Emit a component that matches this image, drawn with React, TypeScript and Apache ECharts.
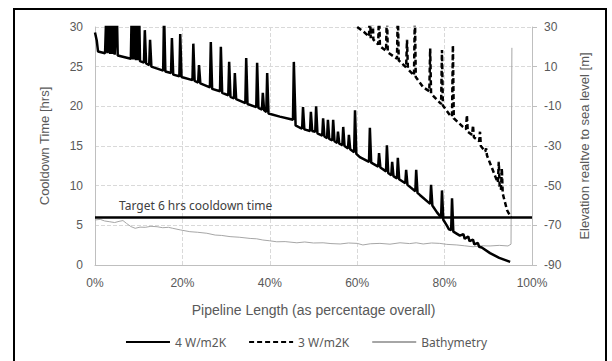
import React, { useEffect, useRef } from "react";
import * as echarts from "echarts";

// Pipeline length (%) vs cooldown time (hrs), U = 4 W/m2K
const cool4W: [number, number][] = [
  [0, 29.3], [0.4, 28.3], [0.7, 26.9], [2.3, 26.7],
  [2.6, 32], [2.9, 26.7],
  [3.3, 32], [3.5, 26.6], [3.8, 32], [4.0, 26.6], [4.3, 32], [4.5, 26.5], [5.0, 32], [5.2, 26.4],
  [8.2, 26.0], [8.4, 32], [8.6, 25.9], [8.8, 32], [9.0, 25.9], [9.2, 32], [9.4, 25.8], [9.6, 32], [9.8, 25.8], [10.1, 32], [10.3, 25.7],
  [11.2, 25.5], [11.4, 29.6], [11.7, 25.4],
  [12.4, 25.2], [12.6, 28.4], [12.9, 25.0],
  [15.6, 24.5], [15.8, 32], [16.1, 24.4],
  [17.4, 24.2], [17.6, 28.6], [17.9, 24.0],
  [19.3, 23.8], [19.5, 29.1], [19.8, 23.7],
  [22.3, 23.3], [22.5, 27.9], [22.8, 23.2],
  [23.6, 23.0], [23.8, 25.2], [24.1, 22.9],
  [26.3, 22.4], [26.5, 28.1], [26.8, 22.2],
  [28.6, 21.9], [28.8, 27.5], [29.1, 21.7],
  [30.5, 21.4], [30.7, 25.6], [31.0, 21.2],
  [31.8, 21.0], [32.0, 24.2], [32.3, 20.9],
  [34.4, 20.4], [34.6, 26.1], [34.9, 20.3],
  [36.9, 19.9], [37.1, 25.5], [37.4, 19.8],
  [38.2, 19.6], [38.4, 21.7], [38.7, 19.5],
  [39.2, 19.3], [39.4, 24.2], [39.7, 19.1],
  [42.3, 18.7], [44.6, 18.4],
  [45.3, 18.3], [45.5, 25.6], [45.9, 17.6], [46.9, 17.3],
  [47.4, 17.2], [47.6, 19.9], [47.9, 17.1],
  [49.2, 16.9], [49.4, 19.3], [49.7, 16.9],
  [50.4, 16.8], [50.6, 20.0], [50.9, 16.6],
  [52.0, 16.3], [52.2, 18.5], [52.5, 16.2],
  [53.1, 16.0], [53.3, 18.3], [53.6, 15.9],
  [54.3, 15.7], [54.5, 18.3], [54.8, 15.6],
  [55.4, 15.4], [55.6, 16.8], [55.9, 15.3],
  [56.6, 15.1], [56.8, 17.4], [57.1, 15.0],
  [57.9, 14.7], [58.1, 16.4], [58.4, 14.6],
  [59.3, 14.2], [59.5, 19.5], [59.8, 14.0],
  [60.6, 13.6],
  [62.7, 13.0], [62.9, 17.3], [63.2, 12.9],
  [64.8, 12.4], [65.0, 14.1], [65.3, 12.3],
  [66.6, 11.8], [66.8, 15.1], [67.1, 11.6],
  [67.8, 11.3], [68.0, 13.0], [68.3, 11.2],
  [69.1, 10.9], [69.3, 13.5], [69.6, 10.8],
  [71.0, 10.3], [71.2, 12.0], [71.5, 10.1],
  [73.3, 9.3], [73.5, 12.0], [73.8, 9.1],
  [74.4, 8.8],
  [76.7, 7.7], [76.9, 10.1], [77.2, 7.5],
  [78.3, 6.6],
  [79.2, 6.0], [79.4, 9.4], [79.7, 5.7],
  [80.5, 5.0], [81.0, 4.5],
  [81.5, 4.4], [81.7, 8.4], [82.0, 4.2],
  [83.5, 3.7], [84.3, 3.9], [84.6, 3.3], [85.4, 3.6], [85.7, 3.0], [86.5, 3.2], [86.8, 2.6], [87.6, 2.8], [87.9, 2.3], [88.5, 2.2],
  [90.4, 1.5], [92.5, 0.9], [95.0, 0.4],
];

// U = 3 W/m2K
const cool3W: [number, number][] = [
  [60.0, 30.0], [61.5, 29.4], [62.7, 28.8],
  [62.9, 32], [63.1, 28.6], [63.5, 32], [63.7, 28.4],
  [64.8, 27.8], [65.0, 32], [65.2, 27.6],
  [66.6, 27.0], [66.8, 32], [67.0, 26.8],
  [69.1, 26.0], [69.3, 32], [69.5, 25.8],
  [71.2, 24.9], [71.4, 28.4], [71.6, 24.7],
  [73.0, 23.9], [73.2, 32], [73.4, 23.7],
  [75.1, 22.4],
  [76.5, 21.9], [76.7, 27.3], [76.9, 21.6],
  [78.3, 20.8],
  [79.2, 20.3], [79.4, 27.1], [79.6, 20.1],
  [81.2, 18.9],
  [81.7, 18.7], [81.9, 27.7], [82.1, 18.5],
  [84.2, 17.4],
  [84.9, 17.1], [85.1, 18.9], [85.3, 16.8],
  [86.3, 16.4], [86.5, 17.6], [86.7, 16.1],
  [87.9, 15.6], [88.1, 16.8], [88.3, 15.0],
  [89.3, 14.3], [89.5, 14.7], [89.7, 13.8],
  [91.0, 12.0], [92.0, 10.6],
  [92.2, 10.4], [92.4, 13.0], [92.6, 9.9],
  [92.9, 9.5], [93.1, 12.2], [93.3, 9.0],
  [94.3, 6.9], [95.2, 6.0],
];

// Bathymetry: elevation relative to sea level (m)
const bathymetry: [number, number][] = [
  [0, -67.3], [1.2, -67.0], [2.2, -67.8], [3.4, -68.2], [4.5, -68.6], [5.5, -68.0], [6.4, -67.6], [7.2, -69.0],
  [8.2, -70.6], [9.2, -71.5], [10.3, -70.9], [11.5, -71.0], [12.8, -70.5], [14.2, -70.7], [15.5, -71.2], [16.8, -71.0],
  [17.8, -71.5], [19.5, -72.3], [21.7, -73.2], [23.5, -73.5], [25.6, -74.0], [27.5, -74.9], [29.0, -75.1], [30.9, -75.7],
  [33.0, -76.0], [35.5, -76.6], [37.0, -76.8], [38.4, -77.4], [40.0, -77.8], [41.6, -78.3], [43.5, -78.2], [46.2, -78.8],
  [48.0, -78.4], [50.0, -78.9], [52.2, -78.8], [54.0, -79.2], [56.1, -79.4], [58.0, -78.9], [60.0, -79.1], [61.3, -79.9],
  [63.0, -79.3], [65.2, -79.1], [67.5, -79.5], [69.8, -78.8], [72.0, -79.2], [73.5, -78.8], [75.1, -79.4], [77.0, -78.9],
  [78.9, -79.1], [80.5, -79.6], [82.8, -79.9], [84.5, -80.3], [86.5, -80.8], [88.5, -80.3], [90.4, -80.4], [92.5, -80.1],
  [94.5, -80.4], [95.2, -79.5], [95.4, 19.5],
];

const seriesNames = ["4 W/m2K", "3 W/m2K", "Bathymetry"];
const targetHours = 6;
const targetLabel = "Target 6 hrs cooldown time";
const xName = "Pipeline Length (as percentage overall)";
const yLeftName = "Cooldown Time [hrs]";
const yRightName = "Elevation realtve to sea level [m]";

const TXT = "#595959";
const FONT = "Liberation Sans";

export default function App() {
  const ref = useRef<HTMLDivElement>(null);
  useEffect(() => {
    if (!ref.current) return;
    const chart = echarts.init(ref.current, undefined, { renderer: "svg" });
    chart.setOption({
      animation: false,
      backgroundColor: "#ffffff",
      textStyle: { fontFamily: FONT },
      graphic: [
        {
          type: "rect",
          shape: { x: 14, y: 9, width: 592, height: 360 },
          style: { fill: "none", stroke: "#000", lineWidth: 2 },
          silent: true,
          z: 100,
        },
      ],
      grid: { left: 95, right: 80, top: 27, bottom: 96 },
      legend: {
        data: seriesNames,
        top: 331,
        left: "center",
        itemWidth: 44,
        itemHeight: 14,
        itemGap: 22,
        itemStyle: { opacity: 0 },
        textStyle: { color: TXT, fontSize: 12, fontFamily: "Noto Sans" },
      },
      xAxis: {
        type: "value",
        min: 0,
        max: 100,
        interval: 20,
        name: xName,
        nameLocation: "middle",
        nameGap: 38,
        nameTextStyle: { color: TXT, fontSize: 14, fontFamily: FONT },
        axisLine: { show: true, lineStyle: { color: "#bfbfbf" } },
        axisTick: { show: false },
        axisLabel: { color: TXT, fontSize: 12, margin: 12, formatter: "{value}%" },
        splitLine: { show: true, lineStyle: { color: "#d9d9d9", type: "dashed" } },
      },
      yAxis: [
        {
          type: "value",
          min: 0,
          max: 30,
          interval: 5,
          name: yLeftName,
          nameLocation: "middle",
          nameGap: 44,
          nameTextStyle: { color: TXT, fontSize: 13, fontFamily: FONT },
          axisLine: { show: true, lineStyle: { color: "#bfbfbf" } },
          axisTick: { show: false },
          axisLabel: { color: TXT, fontSize: 12, margin: 12 },
          splitLine: { show: true, lineStyle: { color: "#d9d9d9", type: "dashed" } },
        },
        {
          type: "value",
          min: -90,
          max: 30,
          interval: 20,
          name: yRightName,
          nameLocation: "middle",
          nameGap: 46,
          nameTextStyle: { color: TXT, fontSize: 13, fontFamily: FONT },
          axisLine: { show: true, lineStyle: { color: "#bfbfbf" } },
          axisTick: { show: true, length: 5, lineStyle: { color: "#bfbfbf" } },
          axisLabel: { color: TXT, fontSize: 12, margin: 12 },
          splitLine: { show: false },
        },
      ],
      series: [
        {
          name: seriesNames[0],
          type: "line",
          yAxisIndex: 0,
          data: cool4W,
          symbol: "none",
          showSymbol: false,
          clip: true,
          lineStyle: { color: "#000", width: 2.5 },
          itemStyle: { color: "#000" },
          z: 5,
          markLine: {
            silent: true,
            symbol: ["none", "none"],
            lineStyle: { color: "#000", width: 2.5, type: "solid" },
            label: {
              show: true,
              position: "insideStartTop",
              formatter: targetLabel,
              color: "#404040",
              fontSize: 12,
              fontFamily: "Noto Sans",
              distance: [24, 6],
            },
            data: [{ yAxis: targetHours }],
          },
        },
        {
          name: seriesNames[1],
          type: "line",
          yAxisIndex: 0,
          data: cool3W,
          symbol: "none",
          showSymbol: false,
          clip: true,
          lineStyle: { color: "#000", width: 2.5, type: [5, 3] },
          itemStyle: { color: "#000" },
          z: 4,
        },
        {
          name: seriesNames[2],
          type: "line",
          yAxisIndex: 1,
          data: bathymetry,
          symbol: "none",
          showSymbol: false,
          clip: true,
          lineStyle: { color: "#a6a6a6", width: 1 },
          itemStyle: { color: "#a6a6a6" },
          z: 3,
        },
      ],
    });
    return () => chart.dispose();
  }, []);
  return (
    <div
      ref={ref}
      style={{ position: "absolute", left: 0, top: 0, width: 612, height: 361 }}
    />
  );
}
